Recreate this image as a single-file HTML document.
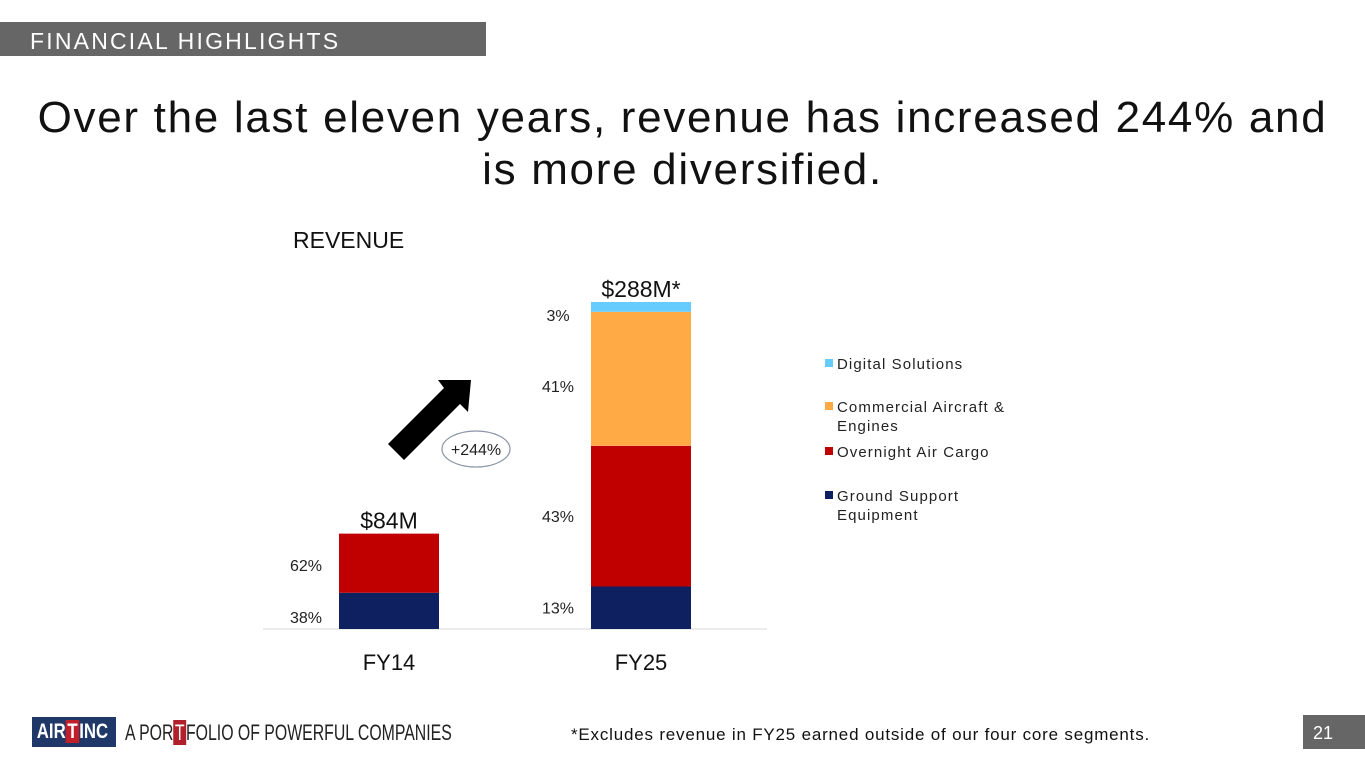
<!DOCTYPE html>
<html><head><meta charset="utf-8"><style>
body{margin:0;width:1365px;height:768px;background:#fff;font-family:"Liberation Sans",sans-serif;position:relative;overflow:hidden}
.abs{position:absolute}
</style></head><body>
<div class="abs" style="left:0;top:22px;width:486px;height:34px;background:#666;color:#fff;font-size:23px;line-height:38px;padding-left:30px;box-sizing:border-box;letter-spacing:2.2px">FINANCIAL HIGHLIGHTS</div>
<div class="abs" style="left:0;top:92px;width:1365px;text-align:center;font-size:44px;line-height:52px;color:#111;letter-spacing:1.7px">Over the last eleven years, revenue has increased 244% and<br>is more diversified.</div>
<div class="abs" style="left:293px;top:227px;font-size:23px;color:#111">REVENUE</div>
<svg class="abs" style="left:0;top:0" width="1365" height="768" id="chart"></svg>
<div class="abs" style="left:32px;top:717px;height:30px;width:84px;background:#1f3868;"><div style="color:#fff;font:bold 21px 'Liberation Sans',sans-serif;line-height:30px;white-space:nowrap;transform:scaleX(0.8);transform-origin:left;padding-left:6px">AIR<span style="background:#c0202a;padding:0 2px">T</span>INC</div></div>
<div class="abs" style="left:125px;top:719px;font:22px 'Liberation Sans',sans-serif;color:#222;line-height:28px;white-space:nowrap;transform:scaleX(0.72);transform-origin:left">A POR<span style="background:#b0202a;color:#fff;padding:0 2px">T</span>FOLIO OF POWERFUL COMPANIES</div>
<div class="abs" style="left:571px;top:725px;font-size:17px;color:#111;letter-spacing:0.8px">*Excludes revenue in FY25 earned outside of our four core segments.</div>
<div class="abs" style="left:1303px;top:715px;width:62px;height:34px;background:#666;color:#fff;font-size:18px;line-height:36px;padding-left:10px;box-sizing:border-box">21</div>
<script>
const categories=["FY14","FY25"];
const totals=[84,288];
const totalLabels=["$84M","$288M*"];
const segments=["Ground Support Equipment","Overnight Air Cargo","Commercial Aircraft & Engines","Digital Solutions"];
const colors=["#0f2060","#c00000","#ffaa44","#66ccff"];
const sharesFY14=[38,62,0,0];
const sharesFY25=[13,43,41,3];
const shares=[sharesFY14,sharesFY25];
const svg=document.getElementById('chart');
const NS='http://www.w3.org/2000/svg';
const base=629,scale=327/288,barW=100,cx=[389,641];
const y=v=>base-v*scale;
function mk(t,a,txt){const e=document.createElementNS(NS,t);for(const k in a)e.setAttribute(k,a[k]);if(txt!=null)e.textContent=txt;svg.appendChild(e);return e;}
const ax=mk('line',{x1:263,x2:767,y1:base,y2:base,stroke:'#d9d9d9','stroke-width':1});


categories.forEach((c,i)=>{
  let cum=0;
  shares[i].forEach((s,j)=>{
    if(!s)return;
    const v0=totals[i]*cum/100,v1=totals[i]*(cum+s)/100;cum+=s;
    const r=mk('rect',{x:cx[i]-barW/2,y:y(v1),width:barW,height:y(v0)-y(v1),fill:colors[j]});
    
    
    const mid=(y(v0)+y(v1))/2;
    const off=j==3?14:(i==0?(j==0?12:8):(j==2?13:6));
    const lt=mk('text',{x:cx[i]-83,y:mid+off,'text-anchor':'middle','font-size':16,fill:'#222'},s+'%');
    
    
  });
  const tl=mk('text',{x:cx[i],y:y(totals[i])-5,'text-anchor':'middle','font-size':23,fill:'#111'},totalLabels[i]);
  
  
  const xl=mk('text',{x:cx[i],y:670,'text-anchor':'middle','font-size':22,fill:'#111'},c);
  
  
});
const arrow=mk('polygon',{points:'388,444 404,460 460,404 468,412 471,380 438,380 444,388',fill:'#000'});


const el=mk('ellipse',{cx:476,cy:449,rx:34,ry:18,fill:'#fff',stroke:'#8a95a8','stroke-width':1.2});


const gt=mk('text',{x:476,y:455,'text-anchor':'middle','font-size':16,fill:'#222'},'+244%');


const legY=[364,407,452,496];
const legLines=[["Digital Solutions"],["Commercial Aircraft &","Engines"],["Overnight Air Cargo"],["Ground Support","Equipment"]];
const legColorIdx=[3,2,1,0];
legY.forEach((ly,k)=>{
  const r=mk('rect',{x:825,y:ly-5,width:8,height:8,fill:colors[legColorIdx[k]]});
  
  
  legLines[k].forEach((t,m)=>{
    const tx=mk('text',{x:837,y:ly+5+m*19,'font-size':15,fill:'#222','letter-spacing':'1.1'},t);
    
    
  });
});
</script>
</body></html>
